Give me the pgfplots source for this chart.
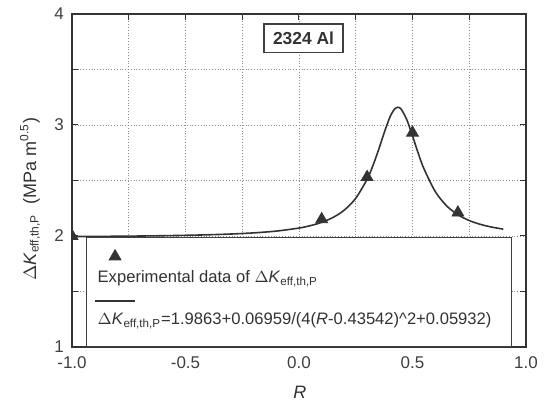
\documentclass[border=0pt]{standalone}
\usepackage{pgfplots}
\pgfplotsset{compat=1.18}
\usepackage{fontspec}
\setmainfont{Liberation Sans}
\pgfplotsset{
  trilegend/.style={legend image code/.code={\draw[black!80, fill=black!80] plot[mark=triangle*, mark size=3.4pt] coordinates {(10pt,0pt)};}},
  linelegend/.style={legend image code/.code={\draw[black!80, line width=0.6pt] (0pt,-1pt) -- (20pt,-1pt);}},
}
\begin{document}
\begin{tikzpicture}
\begin{axis}[
  scale only axis, width=227pt, height=166.5pt,
  xmin=-1, xmax=1, ymin=1, ymax=4,
  clip mode=individual,
  xtick={-1,-0.5,0,0.5,1}, minor xtick={-0.75,-0.25,0.25,0.75},
  ytick={1,2,3,4}, minor ytick={1.5,2.5,3.5},
  grid=both,
  major grid style={densely dotted, black!45, line width=0.4pt},
  minor grid style={densely dotted, black!45, line width=0.4pt},
  tick align=inside, major tick length=3pt, minor tick length=3pt,
  tick style={black!80, line width=0.5pt},
  axis line style={black!80, line width=0.8pt},
  xticklabel style={yshift=-1.2pt, /pgf/number format/.cd, fixed, fixed zerofill, precision=1},
  yticklabel style={xshift=-0.5pt},
  /pgf/number format/assume math mode=true,
  ticklabel style={font=\fontsize{8.5}{10}\selectfont, text=black!75},
  xlabel={\textit{R}},
  ylabel={$\Delta$\textit{K}\textsubscript{eff,th,P}\ \ (MPa m\textsuperscript{0.5})},
  every axis x label/.style={at={(rel axis cs:0.502,-0.137)}, anchor=center, font=\fontsize{9}{10}\selectfont, text=black!80},
  every axis y label/.style={at={(rel axis cs:-0.0925,0.444)}, anchor=center, rotate=90, font=\fontsize{9}{10}\selectfont, text=black!80},
  clip marker paths=true,
  legend style={at={(rel axis cs:0.031,0.315)}, anchor=north west, draw=none, fill=none,
    font=\fontsize{8.3}{10}\selectfont, text=black!80, legend cell align=left, inner xsep=4pt, inner ysep=2pt},
]
\addplot[only marks, mark=triangle*, mark size=3.4pt, black!80, forget plot] coordinates {
  (-1.0,2.00) (0.1,2.15) (0.3,2.53) (0.5,2.93) (0.7,2.21)
};
\addplot[smooth, black!80, line width=0.8pt, forget plot] coordinates {
  (-1.0,1.9947) (-0.9,1.9960) (-0.8,1.9976) (-0.7,1.9996) (-0.6,2.0023)
  (-0.5,2.0059) (-0.4,2.0107) (-0.3,2.0176) (-0.2,2.0279) (-0.1,2.0440)
  (0.0,2.0714) (0.05,2.0928) (0.1,2.1229) (0.15,2.1670) (0.2,2.2339)
  (0.25,2.3398) (0.3,2.5108) (0.325,2.6301) (0.35,2.7726) (0.375,2.9277)
  (0.4,3.0679) (0.42,3.1409) (0.43542,3.1594) (0.45,3.1429) (0.475,3.0474)
  (0.5,2.9019) (0.525,2.7475) (0.55,2.6086) (0.6,2.4013) (0.65,2.2721)
  (0.7,2.1914) (0.75,2.1392) (0.8,2.1041) (0.85,2.0795) (0.9,2.0617)
};
\addlegendimage{trilegend}
\addlegendentry{\rule[-2pt]{0pt}{6.5pt}}
\addlegendimage{empty legend}
\addlegendentry{\hspace*{-21pt}Experimental data of $\Delta$\textit{K}\textsubscript{eff,th,P}\rule[-5.5pt]{0pt}{5.5pt}}
\addlegendimage{linelegend}
\addlegendentry{\rule[-2pt]{0pt}{6pt}}
\addlegendimage{empty legend}
\addlegendentry{\hspace*{-21pt}$\Delta$\textit{K}\textsubscript{eff,th,P}=1.9863+0.06959/(4(\textit{R}-0.43542)\textasciicircum 2+0.05932)}
\draw[black!75, line width=0.5pt, fill=white] (axis cs:-0.938,1.982) rectangle (axis cs:0.934,1.008);
\node[draw=black!75, line width=0.6pt, fill=white, font=\bfseries\fontsize{8.7}{10}\selectfont, text=black!80, inner xsep=4.5pt, inner ysep=4pt] at (axis cs:0.02,3.78) {2324 Al};
\coordinate (bbsw) at (rel axis cs:-0.1586,-0.171);
\coordinate (bbne) at (rel axis cs:1.0463,1.042);
\end{axis}
\pgfresetboundingbox
\path (bbsw) rectangle (bbne);
\end{tikzpicture}
\end{document}
